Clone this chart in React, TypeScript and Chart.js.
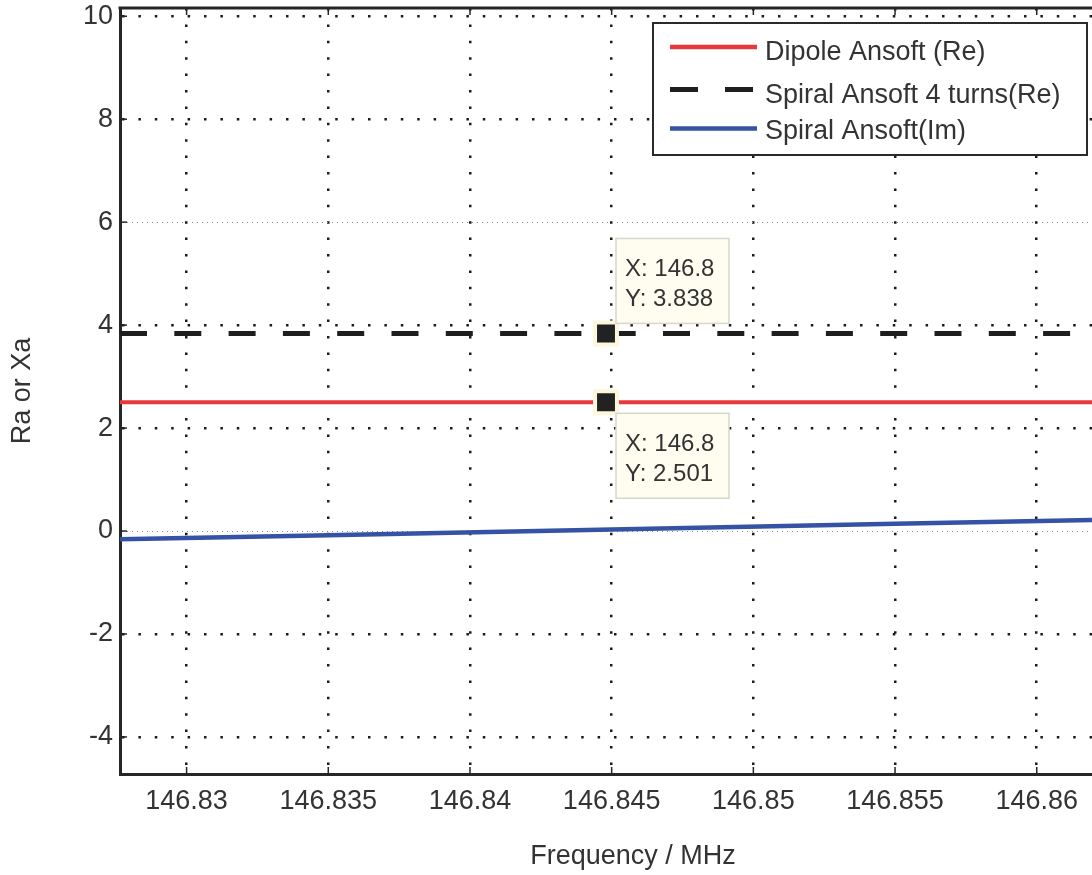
import React, { useEffect, useRef } from "react";
import { Chart, registerables } from "chart.js";

Chart.register(...registerables);

// ---- data ----
const freq = [146.82765, 146.86195];
const dipoleRe = [2.501, 2.501];
const spiralRe = [3.838, 3.838];
const imFreq = [146.82765, 146.835, 146.845, 146.855, 146.86195];
const spiralIm = [-0.16, -0.08, 0.03, 0.14, 0.215];
const tipFreq = [146.8448, 146.8448];
const tipValues = [3.838, 2.501];
const tipLabelX = ["146.8", "146.8"];
const seriesNames = ["Dipole Ansoft (Re)", "Spiral Ansoft 4 turns(Re)", "Spiral Ansoft(Im)"];
const xTitle = "Frequency / MHz";
const yTitle = "Ra or Xa";
const xMin = 146.82765;
const xMax = 146.86195;
const yMin = -4.72;
const yMax = 10.16;

const FONT = '"Liberation Sans", Arial, Helvetica, sans-serif';
const TEXT = "#333333";
const AXIS = "#262626";
const RED = "#e8393a";
const BLACK = "#1e1e1e";
const BLUE = "#3553a5";

const decorPlugin = {
  id: "decor",
  afterDatasetsDraw(chart: any) {
    const { ctx, chartArea } = chart;
    const xs = chart.scales.x;
    const ys = chart.scales.y;
    ctx.save();
    // top border
    ctx.strokeStyle = AXIS;
    ctx.lineWidth = 3;
    ctx.beginPath();
    ctx.moveTo(chartArea.left - 1.5, chartArea.top);
    ctx.lineTo(chartArea.right, chartArea.top);
    ctx.stroke();
    // inward tick marks
    ctx.lineWidth = 1.5;
    xs.ticks.forEach((t: any) => {
      const px = xs.getPixelForValue(t.value);
      ctx.beginPath();
      ctx.moveTo(px, chartArea.bottom);
      ctx.lineTo(px, chartArea.bottom - 7);
      ctx.moveTo(px, chartArea.top);
      ctx.lineTo(px, chartArea.top + 7);
      ctx.stroke();
    });
    ys.ticks.forEach((t: any) => {
      const py = ys.getPixelForValue(t.value);
      ctx.beginPath();
      ctx.moveTo(chartArea.left, py);
      ctx.lineTo(chartArea.left + 7, py);
      ctx.stroke();
    });

    // x axis title (centred on the original, wider plot)
    ctx.fillStyle = TEXT;
    ctx.font = `27px ${FONT}`;
    ctx.textAlign = "center";
    ctx.textBaseline = "middle";
    ctx.fillText(xTitle, 633, 857);

    // data tips
    tipFreq.forEach((f, i) => {
      const px = xs.getPixelForValue(f);
      const py = ys.getPixelForValue(tipValues[i]);
      const w = 113;
      const h = 85;
      const bx = px + 10;
      const by = i === 0 ? py - 10 - h : py + 11;
      ctx.fillStyle = "#fffdf0";
      ctx.fillRect(bx, by, w, h);
      ctx.strokeStyle = "#d6d6cc";
      ctx.lineWidth = 1.5;
      ctx.strokeRect(bx, by, w, h);
      ctx.fillStyle = TEXT;
      ctx.font = `24px ${FONT}`;
      ctx.textBaseline = "alphabetic";
      ctx.textAlign = "left";
      ctx.fillText(`X: ${tipLabelX[i]}`, bx + 9, by + 38);
      ctx.fillText(`Y: ${tipValues[i].toFixed(3)}`, bx + 9, by + 68);
    });

    // legend
    const lx = 653, ly = 23, lw = 434, lh = 132;
    ctx.fillStyle = "#ffffff";
    ctx.fillRect(lx, ly, lw, lh);
    ctx.strokeStyle = "#2a2a2a";
    ctx.lineWidth = 2;
    ctx.strokeRect(lx, ly, lw, lh);
    const colors = [RED, BLACK, BLUE];
    const widths = [4.5, 5, 4.5];
    const dashes = [[], [28, 27], []];
    const rowY = [47, 89.5, 128.5];
    const baseY = [60, 102.5, 138.5];
    seriesNames.forEach((name, i) => {
      ctx.strokeStyle = colors[i];
      ctx.lineWidth = widths[i];
      ctx.setLineDash(dashes[i]);
      ctx.beginPath();
      ctx.moveTo(670, rowY[i]);
      ctx.lineTo(757, rowY[i]);
      ctx.stroke();
      ctx.setLineDash([]);
      ctx.fillStyle = TEXT;
      ctx.font = `27px ${FONT}`;
      ctx.textAlign = "left";
      ctx.textBaseline = "alphabetic";
      ctx.fillText(name, 765, baseY[i]);
    });
    ctx.restore();
  },
};

export default function App() {
  const ref = useRef<HTMLCanvasElement | null>(null);
  useEffect(() => {
    if (!ref.current) return;
    const darkDash = [2.5, 13.9];
    const fineDash = [1, 4];
    const isFine = (c: any) => c.tick && (c.tick.value === 0 || c.tick.value === 6);
    const chart = new Chart(ref.current, {
      type: "line",
      data: {
        datasets: [
          {
            label: "tips",
            data: tipFreq.map((x, i) => ({ x, y: tipValues[i] })),
            showLine: false,
            pointStyle: "rect",
            pointRadius: 15.5,
            backgroundColor: "#222222",
            borderColor: "#fdf8dc",
            borderWidth: 4,
          },
          {
            label: seriesNames[0],
            data: freq.map((x, i) => ({ x, y: dipoleRe[i] })),
            borderColor: RED,
            borderWidth: 4,
            pointRadius: 0,
          },
          {
            label: seriesNames[1],
            data: freq.map((x, i) => ({ x, y: spiralRe[i] })),
            borderColor: BLACK,
            borderWidth: 5,
            borderDash: [27, 27.3],
            borderCapStyle: "butt",
            pointRadius: 0,
          },
          {
            label: seriesNames[2],
            data: imFreq.map((x, i) => ({ x, y: spiralIm[i] })),
            borderColor: BLUE,
            borderWidth: 4.5,
            pointRadius: 0,
          },
        ],
      },
      options: {
        animation: false,
        responsive: false,
        layout: { autoPadding: false, padding: { top: 8, right: 0, left: 0, bottom: 0 } },
        plugins: {
          legend: { display: false },
          tooltip: { enabled: false },
        },
        scales: {
          x: {
            type: "linear",
            min: xMin,
            max: xMax,
            ticks: {
              stepSize: 0.005,
              includeBounds: false,
              color: TEXT,
              font: { family: FONT, size: 27 },
              padding: 11,
              maxRotation: 0,
              autoSkip: false,
              callback: (v: any) => String(parseFloat(Number(v).toFixed(3))),
            },
            grid: {
              drawTicks: false,
              color: "#1a1a1a",
              lineWidth: 2.5,
            },
            border: { display: true, color: AXIS, width: 3, dash: darkDash },
            title: { display: false },
            afterFit: (s: any) => {
              s.height = 101;
              s.paddingLeft = 0;
              s.paddingRight = 0;
            },
          },
          y: {
            type: "linear",
            min: yMin,
            max: yMax,
            ticks: {
              stepSize: 2,
              includeBounds: false,
              color: TEXT,
              font: { family: FONT, size: 27 },
              padding: 7,
              callback: (v: any) => String(v),
            },
            grid: {
              drawTicks: false,
              color: (c: any) => (isFine(c) ? "#8a8a8a" : "#1a1a1a"),
              lineWidth: (c: any) => (isFine(c) ? 1 : 2.5),
            },
            border: {
              display: true,
              color: AXIS,
              width: 3,
              dash: (c: any) => (isFine(c) ? fineDash : darkDash),
            },
            title: {
              display: true,
              text: yTitle,
              color: TEXT,
              font: { family: FONT, size: 27 },
              padding: { top: 6, bottom: 0 },
            },
            afterFit: (s: any) => {
              s.width = 120;
              s.paddingTop = 0;
              s.paddingBottom = 0;
            },
          },
        },
      },
      plugins: [decorPlugin],
    } as any);
    return () => chart.destroy();
  }, []);
  return (
    <div style={{ position: "absolute", left: 0, top: 0, width: 1092, height: 875, background: "#fff" }}>
      <canvas ref={ref} width={1092} height={875} style={{ display: "block" }} />
    </div>
  );
}
